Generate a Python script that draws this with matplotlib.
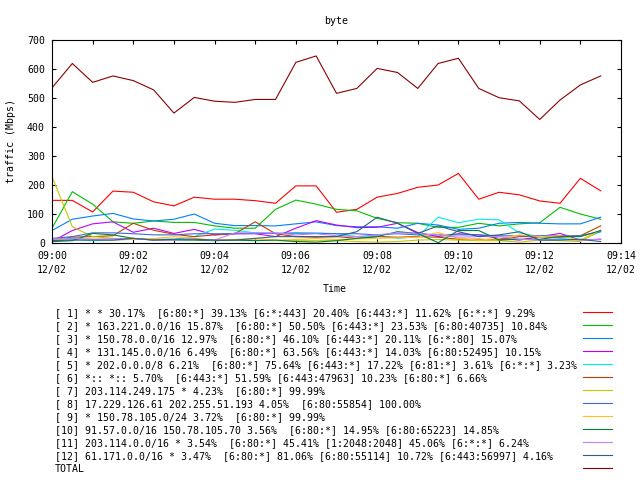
import numpy as np
import matplotlib
matplotlib.use("Agg")
import matplotlib.pyplot as plt
from matplotlib.lines import Line2D

# time axis: minutes after 09:00, one sample every 30 s
minutes = [0, 0.5, 1, 1.5, 2, 2.5, 3, 3.5, 4, 4.5, 5, 5.5, 6, 6.5,
           7, 7.5, 8, 8.5, 9, 9.5, 10, 10.5, 11, 11.5, 12, 12.5, 13, 13.5]

# series values (Mbps)
s1 = [147, 147, 107, 179, 175, 142, 128, 158, 151, 151, 146, 137, 197, 197,
      106, 116, 158, 171, 192, 200, 240, 151, 175, 166, 145, 137, 223, 180]
s2 = [51, 177, 134, 73, 68, 76, 71, 71, 59, 51, 51, 116, 148, 134,
      116, 111, 85, 70, 68, 54, 54, 68, 59, 66, 70, 123, 100, 82]
s3 = [43, 82, 93, 102, 83, 76, 82, 100, 68, 60, 60, 59, 66, 73,
      60, 56, 56, 51, 68, 62, 47, 51, 68, 71, 68, 66, 66, 89]
s4 = [5, 43, 66, 73, 37, 51, 33, 47, 28, 32, 32, 22, 51, 77,
      62, 53, 54, 68, 36, 22, 32, 28, 16, 10, 22, 33, 10, 13]
s5 = [13, 13, 8, 10, 13, 13, 13, 22, 48, 44, 35, 33, 33, 35,
      32, 22, 25, 16, 22, 89, 70, 82, 80, 35, 22, 16, 10, 39]
s6 = [10, 20, 22, 25, 68, 44, 30, 22, 28, 32, 73, 32, 22, 20,
      22, 16, 22, 20, 22, 20, 13, 13, 10, 22, 22, 20, 25, 59]
s7 = [229, 56, 22, 16, 13, 13, 12, 12, 10, 10, 10, 8, 8, 8,
      8, 5, 3, 5, 10, 12, 10, 8, 8, 3, 10, 8, 5, 44]
s8 = [16, 22, 35, 35, 32, 28, 28, 32, 32, 32, 33, 33, 35, 33,
      32, 32, 28, 32, 28, 28, 28, 28, 25, 25, 25, 25, 25, 39]
s9 = [10, 16, 13, 10, 13, 15, 22, 16, 10, 12, 15, 10, 12, 15,
      12, 14, 16, 18, 20, 36, 16, 10, 16, 28, 22, 25, 10, 44]
s10 = [5, 8, 33, 28, 16, 10, 10, 10, 8, 10, 8, 10, 5, 3,
       8, 16, 22, 39, 33, 1, 43, 43, 10, 13, 13, 22, 22, 43]
s11 = [13, 16, 13, 15, 16, 10, 10, 13, 10, 35, 35, 35, 28, 32,
       25, 22, 28, 35, 33, 28, 20, 22, 22, 13, 10, 13, 10, 13]
s12 = [8, 10, 10, 10, 16, 10, 13, 13, 10, 10, 16, 22, 22, 22,
       22, 39, 89, 68, 33, 59, 39, 22, 28, 39, 10, 10, 13, 5]
total = [535, 619, 554, 576, 560, 528, 448, 502, 489, 485, 495, 495, 623, 645,
         516, 533, 602, 588, 533, 619, 637, 533, 501, 490, 426, 493, 545, 576]

labels = [
    "[ 1] * * 30.17%  [6:80:*] 39.13% [6:*:443] 20.40% [6:443:*] 11.62% [6:*:*] 9.29%",
    "[ 2] * 163.221.0.0/16 15.87%  [6:80:*] 50.50% [6:443:*] 23.53% [6:80:40735] 10.84%",
    "[ 3] * 150.78.0.0/16 12.97%  [6:80:*] 46.10% [6:443:*] 20.11% [6:*:80] 15.07%",
    "[ 4] * 131.145.0.0/16 6.49%  [6:80:*] 63.56% [6:443:*] 14.03% [6:80:52495] 10.15%",
    "[ 5] * 202.0.0.0/8 6.21%  [6:80:*] 75.64% [6:443:*] 17.22% [6:81:*] 3.61% [6:*:*] 3.23%",
    "[ 6] *:: *:: 5.70%  [6:443:*] 51.59% [6:443:47963] 10.23% [6:80:*] 6.66%",
    "[ 7] 203.114.249.175 * 4.23%  [6:80:*] 99.99%",
    "[ 8] 17.229.126.61 202.255.51.193 4.05%  [6:80:55854] 100.00%",
    "[ 9] * 150.78.105.0/24 3.72%  [6:80:*] 99.99%",
    "[10] 91.57.0.0/16 150.78.105.70 3.56%  [6:80:*] 14.95% [6:80:65223] 14.85%",
    "[11] 203.114.0.0/16 * 3.54%  [6:80:*] 45.41% [1:2048:2048] 45.06% [6:*:*] 6.24%",
    "[12] 61.171.0.0/16 * 3.47%  [6:80:*] 81.06% [6:80:55114] 10.72% [6:443:56997] 4.16%",
    "TOTAL",
]
colors = ["#ff0000", "#00c000", "#0080ff", "#c000ff", "#00eeee", "#c04000",
          "#c8c800", "#4169e1", "#ffc020", "#008040", "#c080ff", "#306080",
          "#8b0000"]
series = [s1, s2, s3, s4, s5, s6, s7, s8, s9, s10, s11, s12, total]

xtick_labels = ["09:%02d\n12/02" % m if m % 2 == 0 else "" for m in range(15)]

FS = 7.15
plt.rcParams["font.family"] = "DejaVu Sans Mono"
plt.rcParams["font.size"] = FS

W, H = 640, 480
fig = plt.figure(figsize=(6.4, 4.8), dpi=100)
ax = fig.add_axes([52 / W, 1 - 243 / H, 569 / W, 203 / H])

# draw series in legend order, TOTAL last
for vals, c in zip(series, colors):
    ax.plot(minutes, vals, color=c, linewidth=0.8)

ax.set_xlim(0, 14)
ax.set_ylim(0, 700)
ax.set_xticks(range(15))
ax.set_xticklabels(xtick_labels, linespacing=1.42)
ax.set_yticks(range(0, 701, 100))
ax.tick_params(direction="in", length=3, width=0.8, top=True, right=True,
               labelsize=FS)
ax.tick_params(axis="x", pad=6)
ax.tick_params(axis="y", pad=5)
for sp in ax.spines.values():
    sp.set_linewidth(0.8)

fig.text(336 / W, 1 - 21 / H, "byte", ha="center", va="center")
fig.text(11 / W, 1 - 141 / H, "traffic (Mbps)", ha="center", va="center",
         rotation=90)
fig.text(335 / W, 1 - 289 / H, "Time", ha="center", va="center")

# legend drawn by hand below the plot
for i, (lab, c) in enumerate(zip(labels, colors)):
    y = (312 + 13 * i)
    fig.text(55 / W, 1 - (y + 1.5) / H, lab, ha="left", va="center")
    fig.add_artist(Line2D([583 / W, 612 / W], [1 - y / H, 1 - y / H], color=c,
                          linewidth=0.8, transform=fig.transFigure))

fig.savefig("out.png", dpi=100)
